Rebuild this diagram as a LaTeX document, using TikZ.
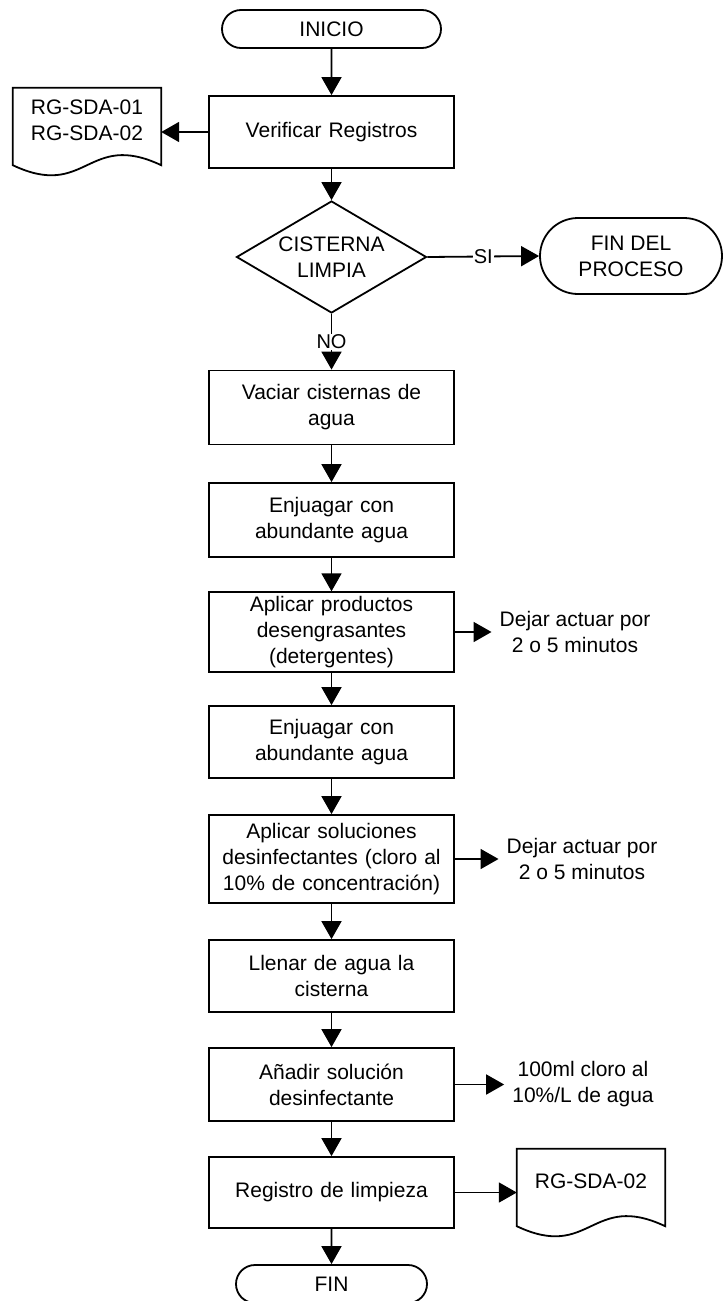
\documentclass[tikz,border=0pt]{standalone}
\usepackage{fontspec}
\setmainfont{Liberation Sans}
\usetikzlibrary{shapes.geometric,shapes.misc,arrows.meta}

\tikzset{
  box/.style={draw, line width=1.8pt, text width=237pt, inner sep=4pt,
    minimum height=74pt, align=center},
  term/.style={draw, line width=1.8pt, rounded rectangle, inner sep=0pt, align=center},
  decision/.style={draw, line width=1.8pt, diamond, aspect=1.7, inner sep=0pt,
    minimum width=190pt, minimum height=112pt, align=center},
  docnode/.style={minimum width=148pt, minimum height=65pt, inner sep=0pt, align=center},
  note/.style={align=center, inner sep=8pt},
  arr/.style={line width=1.8pt, -{Triangle[length=18pt,width=20pt]}},
  lbl/.style={fill=white, inner sep=1pt, font=\fontsize{20pt}{22pt}\selectfont}
}
% document symbol: flat top, wavy bottom below the node
\newcommand{\docoutline}[1]{%
  \draw[line width=1.8pt] (#1.north west) -- (#1.north east)
    -- ([yshift=-12pt]#1.south east)
    .. controls +(-74pt,35pt) and +(74pt,-35pt) .. ([yshift=-12pt]#1.south west)
    -- cycle;}

\begin{document}
\begin{tikzpicture}[x=1pt, y=-1pt, font=\fontsize{21pt}{26pt}\selectfont]
    \useasboundingbox (0,0) rectangle (723,1301);
    % main column
    \node[term, minimum width=219pt, minimum height=38pt] (inicio) at (331.5,29) {INICIO};
    \node[box, minimum height=72pt] (verif) at (331.5,132) {Verificar Registros};
    \node[decision] (limpia) at (331.5,257) {CISTERNA\\LIMPIA};
    \node[box] (vaciar) at (331.5,407.5) {Vaciar cisternas de\\agua};
    \node[box] (enjA) at (331.5,520) {Enjuagar con\\abundante agua};
    \node[box, minimum height=77pt] (aplprod) at (331.5,632) {Aplicar productos\\desengrasantes\\(detergentes)};
    \node[box, minimum height=72pt] (enjB) at (331.5,742) {Enjuagar con\\abundante agua};
    \node[box, minimum height=88pt] (aplsol) at (331.5,859) {Aplicar soluciones\\desinfectantes (cloro al\\10\% de concentración)};
    \node[box, minimum height=72pt] (llenar) at (331.5,976) {Llenar de agua la\\cisterna};
    \node[box, minimum height=73pt] (anadir) at (331.5,1084.5) {Añadir solución\\desinfectante};
    \node[box, minimum height=71pt] (regis) at (331.5,1192.5) {Registro de limpieza};
    \node[term, minimum width=191pt, minimum height=38pt] (fin) at (331.5,1284) {FIN};
    % side nodes
    \node[term, minimum width=182pt, minimum height=76pt] (finproc) at (631,256) {FIN DEL\\PROCESO};
    \node[docnode] (docA) at (87,120.5) {RG-SDA-01\\RG-SDA-02};
    \node[docnode] (docB) at (591,1181.5) {RG-SDA-02};
    \node[note] (dejA) at (575,632) {Dejar actuar por\\2 o 5 minutos};
    \node[note] (dejB) at (582,859) {Dejar actuar por\\2 o 5 minutos};
    \node[note] (cloro) at (583,1084.5) {100ml cloro al\\10\%/L de agua};
    \docoutline{docA}
    \docoutline{docB}
    % connectors
    \draw[arr] (inicio) -- (verif);
    \draw[arr] (verif.west) -- (verif.west -| docA.east);
    \draw[arr] (verif) -- (limpia);
    \draw[arr] (limpia.east) -- node[lbl] {SI} (finproc.west);
    \draw[arr] (limpia.south) -- node[lbl] {NO} (vaciar.north);
    \draw[arr] (vaciar) -- (enjA);
    \draw[arr] (enjA) -- (aplprod);
    \draw[arr] (aplprod.east) -- (dejA.west);
    \draw[arr] (aplprod) -- (enjB);
    \draw[arr] (enjB) -- (aplsol);
    \draw[arr] (aplsol.east) -- (dejB.west);
    \draw[arr] (aplsol) -- (llenar);
    \draw[arr] (llenar) -- (anadir);
    \draw[arr] (anadir.east) -- (cloro.west);
    \draw[arr] (anadir) -- (regis);
    \draw[arr] (regis.east) -- (regis.east -| docB.west);
    \draw[arr] (regis) -- (fin);
\end{tikzpicture}
\end{document}
